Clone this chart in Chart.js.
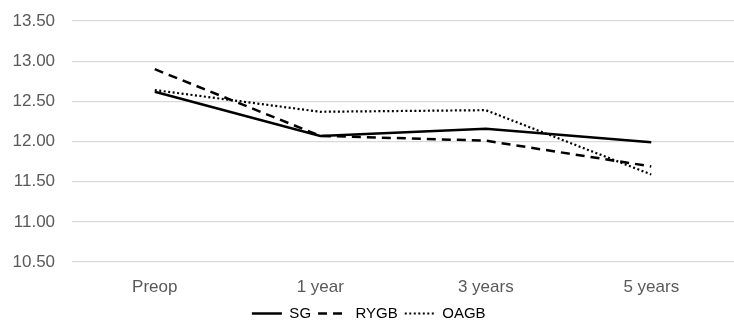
<!DOCTYPE html>
<html>
<head>
<meta charset="utf-8">
<script src="https://cdn.jsdelivr.net/npm/chart.js@4/dist/chart.umd.min.js"></script>
<style>
  html, body { margin: 0; padding: 0; background: #fff; }
  #wrap { width: 734px; height: 325px; }
</style>
</head>
<body>
<div id="wrap"><canvas id="chart"></canvas></div>
<script>
// values
const categories = ["Preop", "1 year", "3 years", "5 years"];
const sgValues   = [12.62, 12.07, 12.16, 11.99];
const rygbValues = [12.90, 12.07, 12.01, 11.69];
const oagbValues = [12.64, 12.37, 12.39, 11.59];
const yTicks = [10.5, 11, 11.5, 12, 12.5, 13, 13.5];

const font = "'Liberation Sans', Arial, sans-serif";

new Chart(document.getElementById("chart"), {
  type: "line",
  data: {
    labels: categories,
    datasets: [
      { label: "SG", data: sgValues, borderColor: "#000", borderWidth: 2.5, borderDash: [] },
      { label: "RYGB", data: rygbValues, borderColor: "#000", borderWidth: 2.5, borderDash: [9, 6] },
      { label: "OAGB", data: oagbValues, borderColor: "#000", borderWidth: 2.2, borderDash: [2, 2.5] }
    ]
  },
  options: {
    responsive: true,
    maintainAspectRatio: false,
    animation: false,
    elements: { point: { radius: 0 }, line: { tension: 0 } },
    layout: { padding: { left: -4.5, right: -8, top: 21, bottom: 0 } },
    scales: {
      x: {
        offset: true,
        grid: { display: false },
        border: { display: false },
        ticks: { color: "#595959", font: { family: font, size: 17 }, padding: 7 },
        afterFit: s => { s.height = 37; }
      },
      y: {
        min: 10.5,
        max: 13.5,
        afterBuildTicks: axis => { axis.ticks = yTicks.map(v => ({ value: v })); },
        grid: { color: "#d9d9d9", lineWidth: 1.2, drawTicks: false },
        border: { display: false },
        ticks: {
          color: "#595959",
          font: { family: font, size: 17 },
          padding: 17,
          callback: v => Number(v).toFixed(2)
        },
        afterFit: s => { s.paddingTop = 0; s.paddingBottom = 0; }
      }
    },
    plugins: {
      tooltip: { enabled: false },
      legend: {
        position: "bottom",
        maxHeight: 26,
        labels: {
          usePointStyle: true,
          pointStyle: "line",
          pointStyleWidth: 30,
          boxHeight: 14,
          padding: 7,
          color: "#404040",
          font: { family: font, size: 15 },
          // point style legend items lose the dash, so copy it from each dataset
          generateLabels: chart => chart.data.datasets.map((ds, i) => ({
            text: ds.label,
            datasetIndex: i,
            strokeStyle: ds.borderColor,
            fillStyle: ds.borderColor,
            lineWidth: ds.borderWidth,
            lineDash: ds.borderDash,
            pointStyle: "line",
            hidden: !chart.isDatasetVisible(i)
          }))
        }
      }
    }
  }
});
</script>
</body>
</html>
